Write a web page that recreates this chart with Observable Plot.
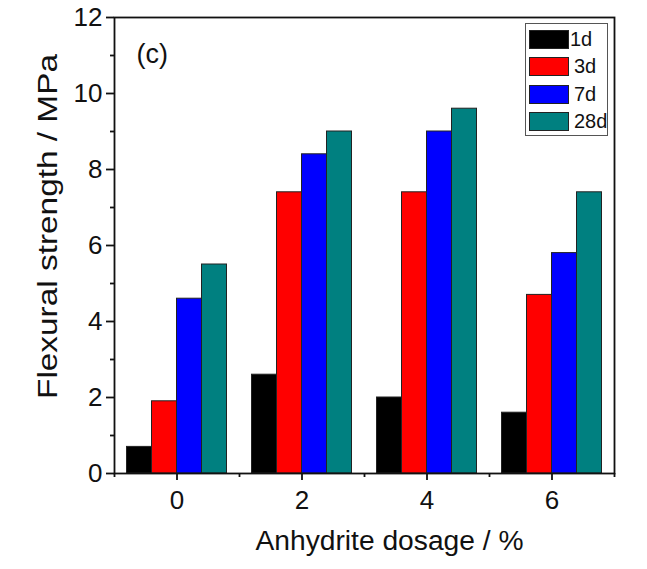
<!DOCTYPE html>
<html>
<head>
<meta charset="utf-8">
<script src="https://cdn.jsdelivr.net/npm/d3@7"></script>
<script src="https://cdn.jsdelivr.net/npm/@observablehq/plot@0.6"></script>
<style>
  body { margin: 0; background: #fff; }
  #wrap { position: relative; width: 647px; height: 569px; font-family: "Liberation Sans", Arial, sans-serif; }
  #legend { position: absolute; left: 525px; top: 23px; width: 83px; height: 113px; border: 1px solid #555; box-sizing: border-box; background: #fff; }
  .item { position: absolute; left: 3px; height: 19px; display: flex; align-items: center; font-size: 20px; color: #111; }
  .sw { width: 40px; height: 19px; border: 1px solid #222; box-sizing: border-box; margin-right: 1px; }
</style>
</head>
<body>
<div id="wrap"></div>
<script>
const dosages = [0, 2, 4, 6];
const ages = ["1d", "3d", "7d", "28d"];
const colors = ["#000000", "#ff0000", "#0000ff", "#008080"];
const v1d = [0.7, 2.6, 2.0, 1.6];
const v3d = [1.9, 7.4, 7.4, 4.7];
const v7d = [4.6, 8.4, 9.0, 5.8];
const v28d = [5.5, 9.0, 9.6, 7.4];
const yTicks = [0, 2, 4, 6, 8, 10, 12];
const xTicks = [0, 2, 4, 6];
const panelLabel = "(c)";
const xLabel = "Anhydrite dosage / %";
const yLabel = "Flexural strength / MPa";

const series = [v1d, v3d, v7d, v28d];
const barW = 0.4;
const rows = [];
series.forEach((vals, si) => {
  vals.forEach((v, di) => {
    const x1 = dosages[di] + (si - 2) * barW;
    rows.push({age: ages[si], x1, x2: x1 + barW, value: v});
  });
});

const ink = "#111";
const chart = Plot.plot({
  width: 647,
  height: 569,
  marginLeft: 114,
  marginRight: 33,
  marginTop: 17,
  marginBottom: 96,
  style: {fontFamily: "'Liberation Sans', Arial, sans-serif", color: ink, background: "#fff"},
  x: {domain: [-1, 7]},
  y: {domain: [0, 12]},
  color: {domain: ages, range: colors},
  marks: [
    Plot.rectY(rows, {x1: "x1", x2: "x2", y1: 0, y2: "value", fill: "age", stroke: "#222", strokeWidth: 1}),
    Plot.frame({stroke: ink, strokeWidth: 1.8}),
    Plot.axisX({ticks: xTicks, tickSize: 7, tickPadding: 10, fontSize: 26, label: null, strokeWidth: 1.8}),
    Plot.axisX({ticks: [-1, 1, 3, 5, 7], tickSize: 4, text: null, label: null, strokeWidth: 1.8}),
    Plot.axisY({ticks: yTicks, tickSize: 8, tickPadding: 4, fontSize: 26, label: null, strokeWidth: 1.8}),
    Plot.axisY({ticks: [1, 3, 5, 7, 9, 11], tickSize: 4, text: null, label: null, strokeWidth: 1.8}),
    Plot.text([xLabel], {frameAnchor: "bottom", dx: 25, dy: 76, fontSize: 27, fill: ink, textAnchor: "middle"}),
    Plot.text([yLabel], {frameAnchor: "left", dx: -66, dy: -19, rotate: -90, fontSize: 27, fill: ink, textAnchor: "middle"}),
    Plot.text([panelLabel], {frameAnchor: "top-left", dx: 22, dy: 26, fontSize: 27, fill: ink, textAnchor: "start"})
  ]
});
// stretch the axis titles horizontally as in the reference
chart.querySelectorAll("text").forEach(t => {
  if (t.textContent === xLabel) { t.setAttribute("textLength", 268); t.setAttribute("lengthAdjust", "spacingAndGlyphs"); }
  if (t.textContent === yLabel) { t.setAttribute("textLength", 345); t.setAttribute("lengthAdjust", "spacingAndGlyphs"); }
});
const wrap = document.getElementById("wrap");
wrap.appendChild(chart);

const legend = document.createElement("div");
legend.id = "legend";
ages.forEach((a, i) => {
  const it = document.createElement("div");
  it.className = "item";
  it.style.top = (6 + i * 27.3) + "px";
  const sw = document.createElement("div");
  sw.className = "sw";
  sw.style.background = colors[i];
  const t = document.createElement("span");
  t.textContent = a;
  if (i > 0) t.style.marginLeft = "4px";
  it.appendChild(sw);
  it.appendChild(t);
  legend.appendChild(it);
});
wrap.appendChild(legend);
</script>
</body>
</html>
